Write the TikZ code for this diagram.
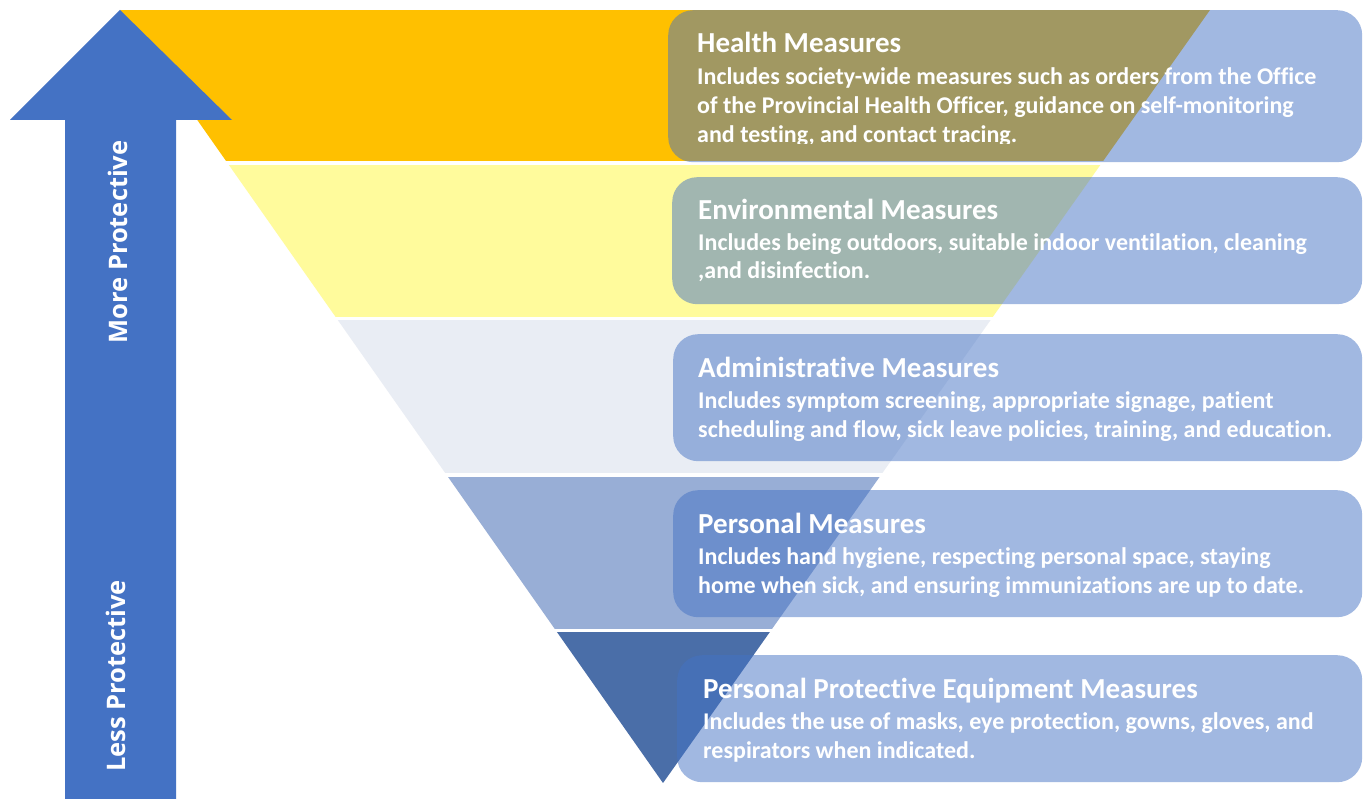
\documentclass[tikz,border=0pt]{standalone}
\usepackage{fontspec}
\setmainfont{Carlito}[RawFeature=-liga]
\newfontfamily\arrowfont{Open Sans}
\usepackage{xcolor}
\usepackage{tikz}
\usetikzlibrary{positioning}

\definecolor{arrowblue}{HTML}{4472C4}
\definecolor{bandorange}{HTML}{FFC000}
\definecolor{bandyellow}{HTML}{FFFB9C}
\definecolor{bandlight}{HTML}{E9EDF4}
\definecolor{bandmid}{HTML}{98AED6}
\definecolor{banddark}{HTML}{4A6EA8}

\tikzset{
  measurebox/.style={fill=arrowblue, fill opacity=0.5, rounded corners=25,
    anchor=north west, inner sep=0, minimum height=127},
  boxtitle/.style={text=white, anchor=base west, inner sep=0,
    font=\bfseries\fontsize{29}{33}\selectfont},
  boxline/.style={text=white, anchor=base west, inner sep=0,
    font=\bfseries\fontsize{24}{28}\selectfont},
  sidelabel/.style={text=white, rotate=90, inner sep=0,
    font=\arrowfont\bfseries\fontsize{25.5}{30}\selectfont}
}

\begin{document}
\begin{tikzpicture}[x=1pt, y=-1pt]
    \useasboundingbox (0,0) rectangle (1367,799);
    \fill[white] (0,0) rectangle (1367,799);

    % Funnel bands
    \begin{scope}
      \clip (120,10) -- (1210,10) -- (663,783) -- cycle;
      \fill[bandorange] (0,10) rectangle (1367,161.5);
      \fill[bandyellow] (0,165) rectangle (1367,317.5);
      \fill[bandlight] (0,320.5) rectangle (1367,473);
      \fill[bandmid] (0,477) rectangle (1367,628.5);
      \fill[banddark] (0,632) rectangle (1367,783);
    \end{scope}

    % Protection arrow
    \fill[arrowblue] (120,10) -- (232,120) -- (176,120) -- (176,799)
      -- (65,799) -- (65,120) -- (10,120) -- cycle;
    \node[sidelabel] (more) at (118,242) {More Protective};
    \node[sidelabel] (less) at (116,676) {Less Protective};

    % Measure boxes
    \node[measurebox, minimum width=694, minimum height=152] (health) at (668,10) {};
    \node[measurebox, minimum width=690] (environ) at (672,177) {};
    \node[measurebox, minimum width=689] (admin) at (673,334) {};
    \node[measurebox, minimum width=689] (personal) at (673,490) {};
    \node[measurebox, minimum width=685] (ppe) at (677,655) {};

    % Health
    \node[boxtitle] (health-t) at (697,53) {Health Measures};
    \node[boxline] (health-1) at (697,85) {Includes society-wide measures such as orders from the Office};
    \node[boxline] (health-2) at (697,114) {of the Provincial Health Officer, guidance on self-monitoring};
    \begin{scope}
      \clip (0,0) rectangle (1367,144);
      \node[boxline] (health-3) at (697,143) {and testing, and contact tracing.};
    \end{scope}

    % Environmental
    \node[boxtitle] (environ-t) at (698,220) {Environmental Measures};
    \node[boxline] (environ-1) at (698,251) {Includes being outdoors, suitable indoor ventilation, cleaning};
    \node[boxline] (environ-2) at (698,279) {,and disinfection.};

    % Administrative
    \node[boxtitle] (admin-t) at (698,377) {Administrative Measures};
    \node[boxline] (admin-1) at (698,408) {Includes symptom screening, appropriate signage, patient};
    \node[boxline] (admin-2) at (698,437) {scheduling and flow, sick leave policies, training, and education.};

    % Personal
    \node[boxtitle] (personal-t) at (698,533) {Personal Measures};
    \node[boxline] (personal-1) at (698,564) {Includes hand hygiene, respecting personal space, staying};
    \node[boxline] (personal-2) at (698,593) {home when sick, and ensuring immunizations are up to date.};

    % PPE
    \node[boxtitle] (ppe-t) at (703,698) {Personal Protective Equipment Measures};
    \node[boxline] (ppe-1) at (703,729) {Includes the use of masks, eye protection, gowns, gloves, and};
    \node[boxline] (ppe-2) at (703,758) {respirators when indicated.};
\end{tikzpicture}
\end{document}
